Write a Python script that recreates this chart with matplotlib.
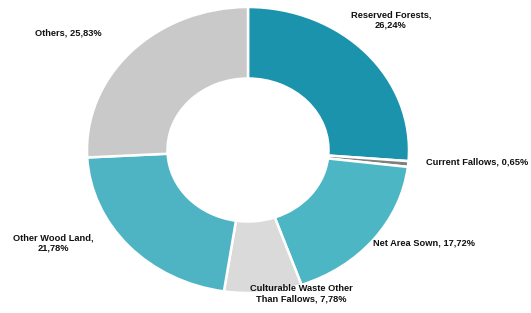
import matplotlib
matplotlib.use("Agg")
import matplotlib.pyplot as plt

categories = ["Reserved Forests", "Current Fallows", "Net Area Sown",
              "Culturable Waste Other\nThan Fallows", "Other Wood Land", "Others"]
values = [26.24, 0.65, 17.72, 7.78, 21.78, 25.83]
label_texts = ["Reserved Forests,\n26,24%", "Current Fallows, 0,65%", "Net Area Sown, 17,72%",
               "Culturable Waste Other\nThan Fallows, 7,78%", "Other Wood Land,\n21,78%", "Others, 25,83%"]
colors = ["#1B93AD", "#808080", "#4DB6C5", "#DADADA", "#4EB4C4", "#C9C9C9"]

plt.rcParams['font.family'] = ['Liberation Sans', 'DejaVu Sans']

fig = plt.figure(figsize=(5.31, 3.13), dpi=100)
ax = fig.add_axes([87/531, 20/313, 322/531, 286/313])
ax.pie(values, colors=colors, startangle=90, counterclock=False, radius=1.0,
       wedgeprops=dict(width=0.5, edgecolor="white", linewidth=1.8))
ax.set_aspect('auto')
ax.set_xlim(-1, 1)
ax.set_ylim(-1, 1)

label_pos = [(0.888, 0.909, 'center'), (1.106, -0.084, 'left'), (0.776, -0.650, 'left'),
             (0.33, -1.007, 'center'), (-1.211, -0.650, 'center'), (-1.118, 0.818, 'center')]
for txt, (x, y, ha) in zip(label_texts, label_pos):
    ax.text(x, y, txt, ha=ha, va='center', fontsize=6.7, fontweight='bold',
            color='#111111', linespacing=1.15, clip_on=False)

fig.savefig("out.png", dpi=100, facecolor="white")
